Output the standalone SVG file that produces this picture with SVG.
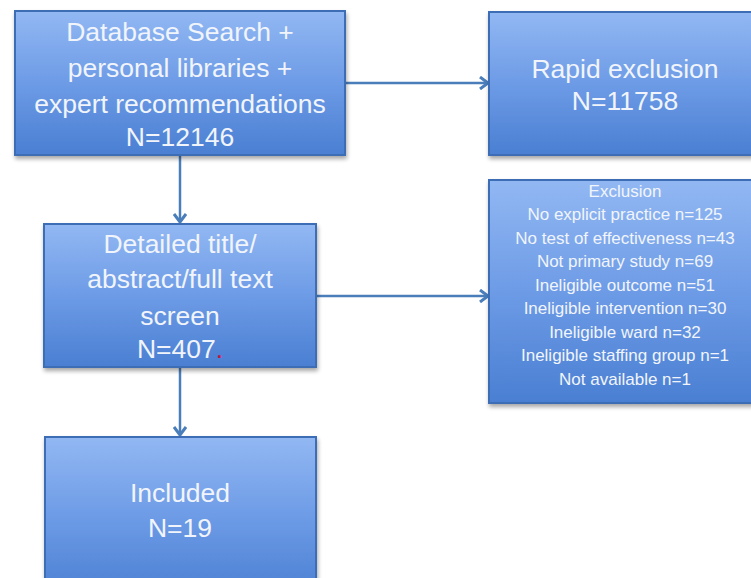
<svg xmlns="http://www.w3.org/2000/svg" width="751" height="578" viewBox="0 0 751 578">
<defs>
<linearGradient id="g" x1="0" y1="0" x2="0" y2="1">
<stop offset="0" stop-color="#92b8f3"/>
<stop offset="0.5" stop-color="#6d9be6"/>
<stop offset="1" stop-color="#4a7fd2"/>
</linearGradient>
<filter id="sh" x="-10%" y="-10%" width="130%" height="130%">
<feGaussianBlur in="SourceAlpha" stdDeviation="2"/>
<feOffset dx="1" dy="3" result="b"/>
<feComponentTransfer><feFuncA type="linear" slope="0.35"/></feComponentTransfer>
<feMerge><feMergeNode/><feMergeNode in="SourceGraphic"/></feMerge>
</filter>
<marker id="arr" markerWidth="14" markerHeight="14" refX="10" refY="7" orient="auto" markerUnits="userSpaceOnUse">
<path d="M2,1 L10,7 L2,13" fill="none" stroke="#4a7ebb" stroke-width="3"/>
</marker>
</defs>
<style>
.box{fill:url(#g);stroke:#3d6db5;stroke-width:2;filter:url(#sh)}
.t{font-family:"Liberation Sans",Arial,sans-serif;fill:#f1f5fb;text-anchor:middle}
.big{font-size:26.5px}
.sm{font-size:17px}
.c{stroke:#4a7ebb;stroke-width:2.5;fill:none;marker-end:url(#arr)}
</style>
<rect width="751" height="578" fill="#ffffff"/>
<g id="connectors">
<line class="c" x1="345" y1="83" x2="488" y2="83"/>
<line class="c" x1="180" y1="156" x2="180" y2="222"/>
<line class="c" x1="316" y1="296" x2="488" y2="296"/>
<line class="c" x1="180" y1="368" x2="180" y2="435"/>
</g>
<g id="search">
<rect class="box" x="15" y="11" width="330" height="144"/>
<text class="t big" x="180" y="41">Database Search +</text>
<text class="t big" x="180" y="77">personal libraries +</text>
<text class="t big" x="180" y="113">expert recommendations</text>
<text class="t big" x="180" y="146">N=12146</text>
</g>
<g id="rapid">
<rect class="box" x="489" y="12" width="272" height="143"/>
<text class="t big" x="625" y="78">Rapid exclusion</text>
<text class="t big" x="625" y="110">N=11758</text>
</g>
<g id="screen">
<rect class="box" x="44" y="224" width="272" height="143"/>
<text class="t big" x="180" y="253">Detailed title/</text>
<text class="t big" x="180" y="288">abstract/full text</text>
<text class="t big" x="180" y="325">screen</text>
<text class="t big" x="180" y="358">N=407<tspan fill="#d0103a">.</tspan></text>
</g>
<g id="exclusion">
<rect class="box" x="489" y="180" width="272" height="223"/>
<text class="t sm" x="625" y="197">Exclusion</text>
<text class="t sm" x="625" y="220">No explicit practice n=125</text>
<text class="t sm" x="625" y="244">No test of effectiveness n=43</text>
<text class="t sm" x="625" y="267">Not primary study n=69</text>
<text class="t sm" x="625" y="291">Ineligible outcome n=51</text>
<text class="t sm" x="625" y="314">Ineligible intervention n=30</text>
<text class="t sm" x="625" y="338">Ineligible ward n=32</text>
<text class="t sm" x="625" y="361">Ineligible staffing group n=1</text>
<text class="t sm" x="625" y="385">Not available n=1</text>
</g>
<g id="included">
<rect class="box" x="45" y="437" width="271" height="160"/>
<text class="t big" x="180" y="502">Included</text>
<text class="t big" x="180" y="537">N=19</text>
</g>
</svg>
